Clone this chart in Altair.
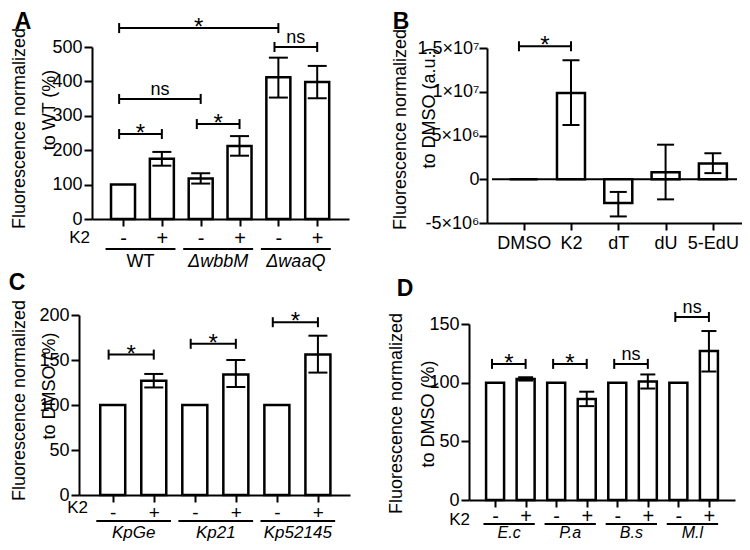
import json
import altair as alt
import pandas as pd

W, H = 734, 534
FONT = "Liberation Sans"

# ---------------- Panel A ----------------
A_k2 = ["-", "+", "-", "+", "-", "+"]
A_values = [100, 175, 118, 212, 412, 398]
A_low = [None, 155, 103, 184, 353, 351]
A_high = [None, 195, 133, 241, 469, 445]
A_groups = ["WT", "ΔwbbM", "ΔwaaQ"]
A_group_italic = [False, True, True]
A_br_from = [0, 4, 0, 0, 2]
A_br_to = [4, 5, 2, 1, 3]
A_br_y = [555, 500, 349, 247, 276]
A_br_label = ["*", "ns", "ns", "*", "*"]
A_yticks = [0, 100, 200, 300, 400, 500]
A_title = ["Fluorescence normalized", "to WT (%)"]

# ---------------- Panel B ----------------
B_cats = ["DMSO", "K2", "dT", "dU", "5-EdU"]
B_values = [0, 9850000, -2700000, 800000, 1800000]
B_low = [None, 6200000, -4250000, -2300000, 700000]
B_high = [None, 13600000, -1450000, 3950000, 2970000]
B_br_from = [0]
B_br_to = [1]
B_br_y = [15200000]
B_br_label = ["*"]
B_yticks = [-5000000, 0, 5000000, 10000000, 15000000]
B_ytick_labels = ["-5×10⁶", "0", "5×10⁶", "1×10⁷", "1.5×10⁷"]
B_title = ["Fluorescence normalized", "to DMSO (a.u.)"]

# ---------------- Panel C ----------------
C_k2 = ["-", "+", "-", "+", "-", "+"]
C_values = [100, 127, 100, 134, 100, 156]
C_low = [None, 119.5, None, 120, None, 136]
C_high = [None, 134.5, None, 150, None, 177]
C_groups = ["KpGe", "Kp21", "Kp52145"]
C_group_italic = [True, True, True]
C_br_from = [0, 2, 4]
C_br_to = [1, 3, 5]
C_br_y = [156, 168, 192]
C_br_label = ["*", "*", "*"]
C_yticks = [0, 50, 100, 150, 200]
C_title = ["Fluorescence normalized", "to DMSO (%)"]

# ---------------- Panel D ----------------
D_k2 = ["-", "+", "-", "+", "-", "+", "-", "+"]
D_values = [100, 103.2, 100, 86, 100, 101, 100, 127]
D_low = [None, 101.8, None, 80, None, 95, None, 109.5]
D_high = [None, 104.6, None, 92.3, None, 107, None, 144]
D_groups = ["E.c", "P.a", "B.s", "M.l"]
D_group_italic = [True, True, True, True]
D_br_from = [0, 2, 4, 6]
D_br_to = [1, 3, 5, 7]
D_br_y = [116, 116, 116, 156]
D_br_label = ["*", "*", "ns", "ns"]
D_yticks = [0, 50, 100, 150]
D_title = ["Fluorescence normalized", "to DMSO (%)"]


def js(v):
    return json.dumps(v, ensure_ascii=False)


def panel(p):
    n = len(p["values"])
    pos = list(range(n))
    xd0, xd1 = p["xd"]
    yd0, yd1 = p["yd"]
    xr0, xr1 = p["xr"]
    yr0, yr1 = p["yr"]
    xs = alt.Scale(domain=p["xd"], range=p["xr"], nice=False, zero=False)
    ys = alt.Scale(domain=p["yd"], range=p["yr"], nice=False, zero=False)
    xaxis = alt.Axis(orient="bottom", offset=yr0 - H, values=pos,
                     labelExpr=js(p["xlabels"]) + "[datum.value]", title="",
                     labelFontSize=p["xlab_size"], labelPadding=p["xlab_pad"],
                     tickSize=7, labelFlush=False, labelOverlap=False, labelAngle=0)
    ykw = dict(orient="left", offset=-xr0, values=p["yticks"], title=p["title"][0],
               titleX=p["titleX"], titleY=p["titleY"], titleBaseline="alphabetic",
               labelPadding=p["ylab_pad"], labelFlush=False, labelOverlap=False)
    if "ylabels" in p:
        ykw["labelExpr"] = js(p["ylabels"]) + "[indexof(" + js(p["yticks"]) + ", datum.value)]"
    yaxis = alt.Axis(**ykw)

    def X(f):
        return alt.X(f, type="quantitative", scale=xs, axis=xaxis)

    def Y(f):
        return alt.Y(f, type="quantitative", scale=ys, axis=yaxis)

    def dx_data(px):  # page pixel x -> data x
        return xd0 + (px - 8 - xr0) * (xd1 - xd0) / (xr1 - xr0)

    def dy_data(py):  # page pixel y -> data y
        return yd0 + (py - 8 - yr0) * (yd1 - yd0) / (yr1 - yr0)

    layers = []
    if p.get("zero_line"):
        zl = pd.DataFrame({"x1": [xd0], "x2": [xd1], "y": [0]})
        layers.append(alt.Chart(zl).mark_rule(color="black", strokeWidth=2)
                      .encode(x=X("x1"), x2="x2", y=Y("y")))

    bars = pd.DataFrame({"pos": pos, "value": p["values"], "base": [0] * n,
                         "lo": p["low"], "hi": p["high"]})
    layers.append(alt.Chart(bars).mark_bar(size=p["bar"], fill="white", stroke="black",
                                           strokeWidth=2.5)
                  .encode(x=X("pos"), y=Y("value"), y2="base"))
    err = alt.Chart(bars).transform_filter("isValid(datum.lo) && isValid(datum.hi)")
    layers.append(err.mark_rule(color="black", strokeWidth=2)
                  .encode(x=X("pos"), y=Y("lo"), y2="hi"))
    for f in ("lo", "hi"):
        layers.append(err.mark_tick(orient="horizontal", size=p["cap"], thickness=2,
                                    color="black", opacity=1)
                      .encode(x=X("pos"), y=Y(f)))

    # significance brackets
    br = pd.DataFrame({"x1": [f - 0.1 for f in p["br_from"]], "x2": p["br_to"],
                       "y": p["br_y"], "label": p["br_label"]})
    br["xm"] = (br["x1"] + br["x2"]) / 2
    ends = pd.DataFrame({"x": list(br["x1"]) + list(br["x2"]), "y": list(br["y"]) * 2})
    layers.append(alt.Chart(br).mark_rule(color="black", strokeWidth=2)
                  .encode(x=X("x1"), x2="x2", y=Y("y")))
    layers.append(alt.Chart(ends).mark_tick(orient="vertical", size=10, thickness=2,
                                            color="black", opacity=1)
                  .encode(x=X("x"), y=Y("y")))
    brc = alt.Chart(br)
    layers.append(brc.transform_filter("datum.label == '*'")
                  .mark_text(font=FONT, fontSize=24, dy=7, baseline="alphabetic", color="black")
                  .encode(x=X("xm"), y=Y("y"), text="label"))
    layers.append(brc.transform_filter("datum.label != '*'")
                  .mark_text(font=FONT, fontSize=18, dy=-4, baseline="alphabetic", color="black")
                  .encode(x=X("xm"), y=Y("y"), text="label"))

    # second line of the y title
    t2 = pd.DataFrame({"x": [dx_data(p["t2"][0])], "y": [dy_data(p["t2"][1])],
                       "t": [p["title"][1]]})
    layers.append(alt.Chart(t2).mark_text(font=FONT, fontSize=18, angle=270, align="center",
                                          baseline="alphabetic", color="black")
                  .encode(x=X("x"), y=Y("y"), text="t"))

    # group underlines and names
    if "groups" in p:
        g = len(p["groups"])
        gd = pd.DataFrame({"gx1": [2 * i - p["gL"] for i in range(g)],
                           "gx2": [2 * i + 1 + p["gR"] for i in range(g)],
                           "gy": [0] * g, "label": p["groups"], "italic": p["italic"]})
        gd["gxm"] = (gd["gx1"] + gd["gx2"]) / 2
        layers.append(alt.Chart(gd).mark_rule(color="black", strokeWidth=2, yOffset=p["gline_dy"])
                      .encode(x=X("gx1"), x2="gx2", y=Y("gy")))
        for it in (False, True):
            sub = gd[gd["italic"] == it]
            if len(sub):
                layers.append(alt.Chart(sub).mark_text(
                    font=FONT, fontSize=p["glabel_size"], dy=p["glabel_dy"], baseline="middle",
                    fontStyle="italic" if it else "normal", color="black")
                    .encode(x=X("gxm"), y=Y("gy"), text="label"))
        k2 = pd.DataFrame({"x": [xd0], "y": [0], "t": ["K2"]})
        layers.append(alt.Chart(k2).mark_text(font=FONT, fontSize=17, align="right",
                                              baseline="middle", dx=p["k2_dx"], dy=p["k2_dy"],
                                              color="black")
                      .encode(x=X("x"), y=Y("y"), text="t"))

    # panel letter
    let = pd.DataFrame({"x": [xd0], "y": [yd1], "t": [p["letter"]]})
    layers.append(alt.Chart(let).mark_text(font=FONT, fontSize=23, fontWeight="bold",
                                           align="center", baseline="middle",
                                           dx=p["let_dx"], dy=p["let_dy"], color="black")
                  .encode(x=X("x"), y=Y("y"), text="t"))
    return alt.layer(*layers)


pA = panel(dict(values=A_values, low=A_low, high=A_high, xlabels=A_k2,
                xd=[-0.67, 5.69], xr=[84, 341], yd=[0, 500], yr=[211, 39], yticks=A_yticks,
                title=A_title, titleX=-68, titleY=120, t2=(48, 110),
                ylab_pad=2, bar=24, cap=19, xlab_size=20, xlab_pad=2,
                br_from=A_br_from, br_to=A_br_to, br_y=A_br_y, br_label=A_br_label,
                groups=A_groups, italic=A_group_italic, gL=0.45, gR=0.35,
                gline_dy=30, glabel_dy=43, glabel_size=18, k2_dx=-7, k2_dy=19,
                letter="A", let_dx=-74, let_dy=-25))

pB = panel(dict(values=B_values, low=B_low, high=B_high, xlabels=B_cats,
                xd=[-0.67, 4.51], xr=[479, 734], yd=[-5000000, 15000000], yr=[215, 40],
                yticks=B_yticks, ylabels=B_ytick_labels,
                title=B_title, titleX=-82, titleY=121, t2=(428, 108),
                ylab_pad=0, bar=28, cap=17, xlab_size=18, xlab_pad=4, zero_line=True,
                br_from=B_br_from, br_to=B_br_to, br_y=B_br_y, br_label=B_br_label,
                letter="B", let_dx=-91, let_dy=-26))

pC = panel(dict(values=C_values, low=C_low, high=C_high, xlabels=C_k2,
                xd=[-0.70, 5.66], xr=[71, 342], yd=[0, 200], yr=[487, 307], yticks=C_yticks,
                title=C_title, titleX=-55, titleY=392, t2=(49, 386),
                ylab_pad=2, bar=25, cap=19, xlab_size=19, xlab_pad=1,
                br_from=C_br_from, br_to=C_br_to, br_y=C_br_y, br_label=C_br_label,
                groups=C_groups, italic=C_group_italic, gL=0.4, gR=0.42,
                gline_dy=26, glabel_dy=38, glabel_size=17, k2_dx=4, k2_dy=13,
                letter="C", let_dx=-67, let_dy=-32))

pD = panel(dict(values=D_values, low=D_low, high=D_high, xlabels=D_k2,
                xd=[-0.69, 7.69], xr=[461, 727], yd=[0, 150], yr=[492, 316], yticks=D_yticks,
                title=D_title, titleX=-68, titleY=405, t2=(427, 414),
                ylab_pad=2, bar=18, cap=15, xlab_size=20, xlab_pad=-1,
                br_from=D_br_from, br_to=D_br_to, br_y=D_br_y, br_label=D_br_label,
                groups=D_groups, italic=D_group_italic, gL=0.38, gR=0.3,
                gline_dy=24, glabel_dy=33, glabel_size=16, k2_dx=-4, k2_dy=20,
                letter="D", let_dx=-69, let_dy=-35))

chart = (alt.layer(pA, pB, pC, pD)
         .resolve_scale(x="independent", y="independent")
         .properties(width=W, height=H, autosize=alt.AutoSizeParams(type="none"),
                     padding=0, background="white")
         .configure_view(stroke="transparent")
         .configure_axis(grid=False, domainColor="black", domainWidth=2, tickColor="black",
                         tickWidth=2, tickSize=8, labelFont=FONT, labelFontSize=18,
                         labelColor="black", titleFont=FONT, titleFontSize=18,
                         titleFontWeight="normal", titleColor="black"))

chart.save("out.html", embed_options={"renderer": "svg", "actions": False})
